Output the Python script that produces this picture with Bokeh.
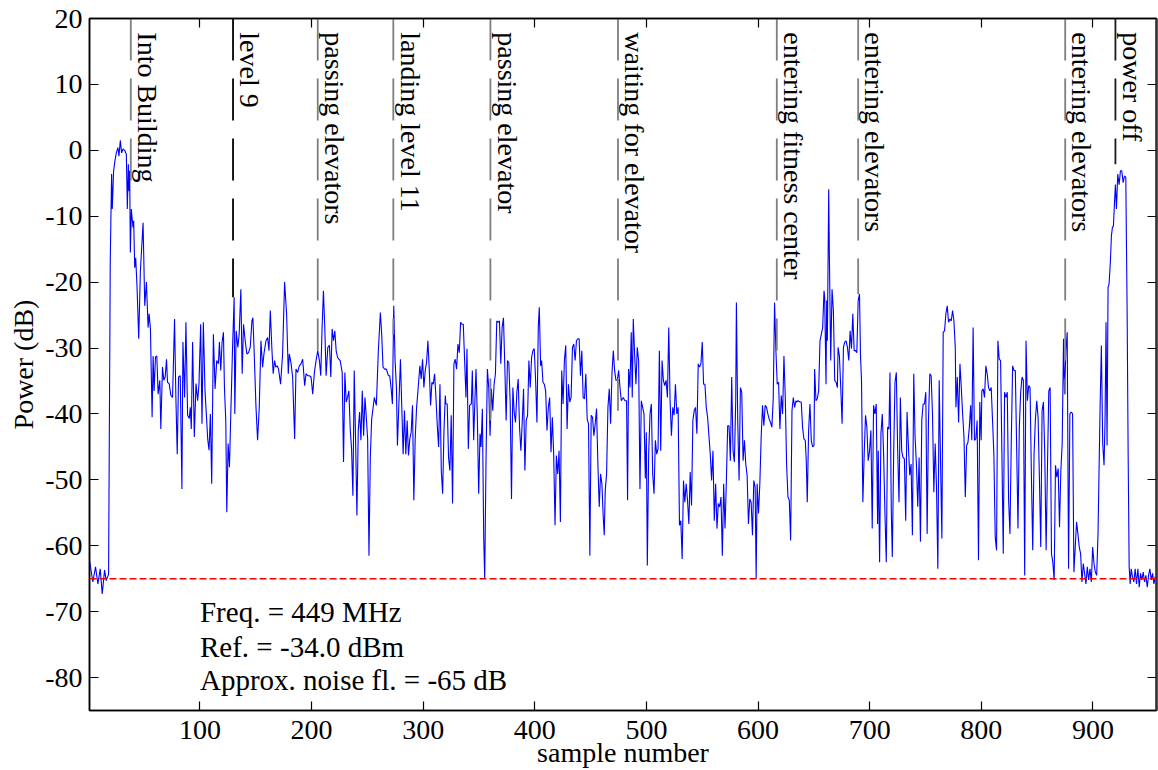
import math
from bokeh.plotting import figure
from bokeh.models import Span, Label, FixedTicker, Range1d, LinearAxis
from bokeh.embed import file_html
from bokeh.resources import INLINE
from bokeh.core.properties import value

# ---------------- data ----------------
sample = [
    1.0, 4.0, 6.4, 8.5, 10.6, 12.4, 14.5, 16.0, 18.1, 19.6, 20.8, 21.4, 22.6, 23.8, 25.0, 26.5, 27.4, 28.6, 29.8, 31.0,
    32.5, 34.0, 34.9, 35.8, 36.4, 37.0, 37.6, 38.5, 39.1, 40.0, 40.6, 41.5, 42.4, 43.6, 45.1, 46.6, 49.0, 50.5, 52.0, 53.5,
    54.4, 55.6, 57.1, 58.0, 58.9, 60.1, 61.3, 62.5, 64.0, 64.9, 66.4, 67.6, 68.8, 70.0, 70.9, 72.4, 73.9, 75.4, 77.2, 78.4,
    79.6, 80.8, 82.3, 83.8, 84.7, 86.2, 87.4, 88.9, 90.4, 91.3, 92.2, 93.4, 94.9, 96.4, 97.9, 99.1, 100.6, 101.8, 103.0, 104.5,
    106.0, 106.9, 108.1, 109.3, 110.5, 112.0, 113.5, 115.0, 116.5, 117.4, 118.6, 119.8, 121.0, 121.9, 123.1, 124.0, 125.2, 126.4, 127.6, 129.1,
    130.6, 131.2, 132.4, 133.9, 135.1, 136.6, 137.8, 139.0, 140.5, 142.0, 143.5, 145.0, 146.5, 147.4, 148.6, 150.1, 151.6, 153.1, 154.6, 156.1,
    157.3, 159.1, 160.6, 161.8, 163.0,
    164.4, 165.6, 166.8, 168.0, 169.2, 170.4, 172.2, 174.0, 175.8, 177.6, 179.1, 180.0, 181.5, 183.0, 184.8, 186.0, 187.5, 189.0, 190.5, 192.0,
    193.8, 195.0, 196.5, 198.0, 199.5, 201.0, 202.5, 204.0, 205.5, 207.0, 208.2, 209.4, 210.6, 211.8, 213.0, 214.5, 216.0, 217.2, 218.4, 219.6,
    220.8, 222.0, 223.2, 224.4, 225.6, 227.4, 228.6, 229.8, 231.0, 232.2, 233.4, 234.6, 235.8, 237.0, 238.2, 239.4, 240.6, 241.8, 243.0, 244.2,
    245.4, 246.6, 247.8, 249.0, 250.2, 251.4, 252.6, 253.8, 255.0, 256.2, 258.0, 259.8, 261.6, 262.8, 264.0, 265.5, 267.0, 268.8, 270.0, 271.2,
    272.4, 273.6, 274.8, 276.0, 276.9, 278.1, 279.6, 280.8, 282.0, 283.2, 284.4, 285.6, 286.8, 288.0, 289.2, 290.4, 291.6, 292.8, 294.0, 295.5,
    297.0, 298.2, 299.4, 300.6, 301.8, 303.0, 304.2, 305.4, 306.6, 307.8, 309.0, 310.2, 311.4, 312.6, 313.8, 315.0, 316.2, 317.4, 318.6, 319.8,
    320.3, 321.5, 322.7, 323.9, 325.1, 326.3, 327.5, 328.7, 329.9, 331.1, 332.3, 333.5, 334.7, 335.9, 337.1, 338.3, 339.2, 340.4, 341.6, 343.1,
    344.0, 345.2, 346.4, 347.3, 348.5, 349.7, 350.9, 351.8, 353.0, 354.2, 355.1, 356.3, 357.5, 358.7, 359.9, 361.1, 362.3, 363.5, 364.7, 365.9,
    367.1, 368.3, 369.5, 370.7, 371.9, 373.1, 374.3, 375.5, 376.7, 377.9, 379.1, 380.3, 381.5, 382.7, 383.9, 385.1, 386.3, 387.5, 388.7, 389.9,
    391.1, 392.3, 393.5, 394.7, 395.9, 397.1, 398.3, 399.5, 400.7, 401.9, 403.1, 404.0, 405.2, 406.1, 407.3, 408.5, 409.7, 410.9, 412.1, 413.3,
    414.5, 415.7, 416.9, 418.1, 419.3, 420.5, 421.7, 422.9, 424.1, 425.3, 426.5, 427.7, 428.9, 430.1, 431.3, 432.5, 433.7, 434.9, 436.1, 437.3,
    438.5, 439.7, 440.9, 442.1, 443.3, 444.5, 445.7, 446.9, 448.1, 449.3, 450.5, 451.7, 452.9, 454.1, 455.3, 456.5, 457.7, 458.9, 460.1, 461.3,
    462.2, 463.1, 464.3, 465.5, 466.7, 467.9, 469.1, 470.3, 471.5, 472.7, 473.9, 475.1, 476.3, 477.5,
    479.2, 480.7, 482.2, 483.1, 484.0, 485.2, 486.4, 487.3, 488.2, 489.4, 490.6, 491.8, 493.0, 494.2, 495.4, 496.6, 497.8, 499.0, 499.9, 500.8,
    502.0, 503.2, 504.4, 505.6, 506.8, 508.0, 509.2, 510.4, 511.6, 512.8, 514.0, 515.2, 516.4, 517.6, 518.8, 520.0, 521.2, 522.4, 523.6, 524.8,
    526.0, 527.2, 528.4, 529.6, 530.8, 532.0, 533.2, 534.4, 535.6, 536.8, 538.0, 539.2, 540.4, 541.6, 542.8, 544.0, 545.2, 546.4, 547.6, 548.8,
    550.0, 551.2, 552.4, 553.6, 554.8, 556.0, 557.2, 558.4, 559.6, 560.8, 562.0, 563.2, 564.4, 565.6, 566.8, 568.0, 569.2, 570.4, 571.6, 572.8,
    574.0, 575.2, 576.4, 577.6, 578.8, 580.0, 580.6, 581.8, 583.0, 584.2, 585.4, 586.6, 587.8, 589.0, 590.2, 591.4, 592.6, 593.8, 595.0, 596.2,
    597.4, 598.3, 599.2, 600.4, 601.6, 602.8, 604.0, 605.2, 606.4, 607.6, 608.8, 610.0, 611.2, 612.4, 613.6, 614.8, 616.0, 617.2, 618.4, 619.6,
    620.8, 622.0, 623.2, 624.4, 625.6, 626.8, 628.0, 629.2, 630.4, 631.6, 632.8, 634.0,
    634.5, 635.7, 637.5, 638.7, 639.9, 641.1, 642.3, 643.2, 644.1, 645.3, 646.5, 647.7, 648.9, 650.1, 650.7, 651.9, 653.1, 654.3, 655.5, 656.7,
    657.9, 659.1, 659.7, 660.3, 660.9, 661.5, 662.1, 663.3, 663.9, 665.1, 666.3, 667.5, 668.7, 669.9, 671.1, 671.7, 672.9, 674.1, 675.3, 676.5,
    677.7, 678.9, 680.1, 681.3, 682.5, 683.7, 684.9, 686.1, 687.3, 688.5, 689.7, 690.9, 691.8, 692.7, 693.9, 695.1, 696.3, 697.5, 698.7, 699.9,
    701.1, 702.3, 703.5, 704.7, 705.9, 707.1, 707.7, 708.9, 710.1, 711.3, 712.5, 713.7, 714.9, 716.1, 717.3, 718.2, 719.4, 720.3, 721.5, 722.7,
    723.9, 725.1, 726.3, 727.5, 728.7, 729.9, 731.1, 732.3, 733.5, 734.7, 735.9, 737.1, 738.3, 739.5, 740.7, 741.9, 743.1, 744.3, 745.5, 746.7,
    747.9, 749.1, 750.3, 751.5, 752.7, 753.9, 755.1, 756.3, 757.5, 758.7, 759.9, 761.1, 762.3, 763.5, 764.7, 765.9, 767.1, 768.3, 769.5, 770.7,
    771.9, 773.1, 774.3, 775.5, 776.7, 777.3, 778.5, 779.7, 780.9, 782.1, 783.3, 784.5, 785.7, 786.9, 788.1, 789.3, 790.5,
    791.5, 792.7, 793.9, 795.1, 796.3, 797.5, 798.7, 799.9, 800.5, 801.7, 802.9, 804.1, 805.3, 806.5, 807.7, 808.9, 810.1, 811.3, 812.5, 813.7,
    814.9, 816.1, 817.3, 818.5, 819.7, 820.9, 822.1, 823.3, 824.5, 825.7, 826.9, 828.1, 829.3, 830.5, 831.7, 832.9, 834.1, 835.3, 836.5, 837.7,
    838.9, 840.1, 841.3, 842.5, 843.7, 844.9, 846.1, 847.3, 848.5, 849.7, 850.9, 852.1, 853.3, 854.5, 855.7, 856.9, 858.1, 859.3, 860.5, 861.7,
    862.9, 864.1, 865.3, 866.5, 867.7, 868.9, 870.1, 871.3, 872.5, 873.7, 874.6, 875.8, 877.0, 878.2, 879.4, 880.6, 881.8, 883.0, 884.2, 885.4,
    886.6, 887.8, 889.0, 890.2, 891.4, 892.6, 893.8, 895.0, 896.2, 897.4, 898.6, 899.8, 901.0, 902.2, 903.4, 904.6, 906.4, 907.6, 908.8, 910.0,
    910.9, 911.8, 912.7, 913.6, 914.5, 915.7, 916.6, 917.5, 918.4, 919.3, 920.2, 921.1, 922.3, 923.5, 924.7, 925.9, 927.1, 928.3, 929.5, 930.7,
    931.6, 932.5, 933.4, 934.3, 935.5, 936.7, 937.9, 939.1, 940.3, 941.5, 942.7, 943.9, 945.1, 946.3, 947.5, 948.7, 949.9, 951.1, 952.3, 953.5,
    954.7, 955.9,
]

power_db = [
    -62.2, -65.5, -63.2, -65.8, -63.5, -67.3, -63.7, -65.3, -64.3, -16.8, -3.6, -8.9, -3.1, -1.6, -0.4, 0.4, -0.9, 1.5, -0.4, 0.2,
    0.0, -0.6, -8.9, -2.1, -6.2, -3.1, -15.5, -8.9, -10.2, -11.7, -10.7, -17.8, -16.3, -20.8, -28.6, -18.3, -11.0, -23.6, -20.0, -26.9,
    -24.8, -27.1, -40.5, -31.2, -36.5, -31.4, -31.2, -37.0, -34.9, -42.3, -32.9, -34.9, -34.4, -31.7, -35.2, -35.4, -37.2, -37.5, -25.6, -37.5,
    -46.1, -34.4, -34.2, -51.4, -29.1, -37.5, -26.1, -40.2, -40.7, -39.0, -42.3, -29.1, -43.5, -35.4, -38.0, -35.4, -26.4, -41.5, -26.1, -36.5,
    -41.0, -43.8, -45.5, -40.0, -50.6, -27.9, -36.2, -31.9, -32.4, -29.1, -33.4, -29.1, -27.6, -36.0, -41.0, -54.9, -44.5, -48.1, -40.0, -30.4,
    -22.3, -40.0, -27.4, -29.9, -27.9, -21.1, -33.9, -26.4, -28.9, -30.9, -30.7, -29.9, -25.9, -25.4, -30.9, -38.7, -44.0, -39.0, -28.9, -32.9,
    -30.9, -28.9, -28.4, -30.4, -24.3,
    -30.1, -33.9, -31.9, -32.9, -32.7, -33.2, -35.5, -30.9, -20.0, -24.8, -33.9, -30.9, -32.2, -34.4, -43.8, -33.2, -33.7, -32.7, -32.4, -31.7,
    -35.7, -33.9, -34.2, -34.2, -34.4, -37.0, -33.7, -31.9, -30.4, -31.9, -34.2, -26.9, -21.3, -26.9, -34.2, -29.9, -29.6, -34.4, -27.1, -28.9,
    -27.4, -30.4, -31.4, -31.7, -31.9, -33.7, -47.3, -33.7, -38.2, -37.5, -36.5, -42.3, -45.3, -52.4, -33.4, -44.0, -55.4, -42.5, -39.7, -44.0,
    -36.5, -43.3, -37.5, -40.5, -43.8, -61.5, -46.6, -40.8, -39.2, -37.5, -38.7, -30.4, -24.6, -27.9, -32.9, -33.2, -33.2, -34.2, -34.2, -36.0,
    -38.5, -23.6, -31.9, -36.0, -44.8, -39.0, -31.7, -39.0, -46.1, -39.5, -46.1, -41.0, -46.3, -43.8, -42.8, -38.7, -53.1, -43.8, -39.2, -36.0,
    -32.7, -34.7, -31.7, -36.0, -33.4, -32.2, -28.9, -33.2, -38.7, -35.2, -35.5, -33.9, -37.5, -41.8, -45.0, -35.5, -48.6, -52.1, -42.5, -37.2,
    -38.5, -38.5, -46.6, -48.6, -40.2, -53.6, -32.4, -31.7, -33.2, -29.4, -30.7, -26.1, -26.4, -26.4, -31.9, -37.5, -30.1, -45.3, -38.7, -38.5,
    -33.4, -44.0, -37.5, -33.2, -40.5, -52.1, -43.0, -45.0, -39.2, -58.7, -65.0, -46.6, -33.2, -36.0, -43.3, -36.2, -39.5, -35.5, -33.9, -25.9,
    -26.1, -25.9, -32.4, -26.9, -25.4, -32.7, -41.0, -31.9, -32.2, -38.2, -52.9, -36.0, -39.7, -41.3, -36.7, -34.7, -42.0, -45.6, -41.3, -36.2,
    -48.6, -41.0, -40.2, -31.9, -36.0, -31.4, -30.4, -30.1, -34.9, -41.3, -26.9, -23.8, -32.7, -31.9, -35.2, -35.5, -36.5, -42.5, -39.0, -37.5,
    -45.8, -40.5, -46.1, -56.9, -46.3, -49.1, -45.6, -56.4, -33.4, -38.5, -31.9, -29.6, -42.3, -35.5, -38.2, -37.5, -29.9, -29.4, -31.9, -28.9,
    -28.6, -28.6, -34.2, -30.4, -37.5, -37.7, -33.9, -40.8, -41.5, -61.5, -40.2, -40.5, -43.3, -41.5, -39.2, -47.6, -54.1, -49.1, -50.6, -55.7,
    -58.4, -51.6, -49.1, -39.0, -36.2, -41.5, -33.9, -30.4, -33.4, -34.9, -34.9, -33.4, -36.0, -38.0,
    -37.5, -38.0, -38.0, -53.1, -33.2, -36.0, -27.6, -37.5, -25.6, -30.9, -35.5, -29.9, -31.9, -51.4, -38.0, -39.0, -40.0, -49.8, -42.8, -63.0,
    -46.1, -40.0, -38.5, -49.1, -52.1, -44.0, -46.1, -45.3, -30.4, -45.6, -31.9, -34.9, -35.7, -34.9, -37.5, -26.9, -38.0, -43.3, -39.0, -40.2,
    -35.5, -40.0, -39.0, -56.9, -56.2, -62.0, -50.1, -53.4, -50.6, -53.1, -56.7, -48.8, -53.9, -41.0, -39.5, -39.0, -43.0, -32.4, -32.9, -32.4,
    -29.1, -35.5, -35.5, -39.0, -40.5, -43.3, -46.1, -50.1, -45.6, -56.2, -50.6, -57.4, -53.6, -54.1, -52.6, -61.5, -50.6, -57.4, -50.3, -41.8,
    -41.8, -47.1, -34.4, -45.6, -47.3, -38.0, -23.1, -41.0, -50.1, -36.0, -36.7, -47.1, -44.0, -47.6, -49.3, -56.7, -52.9, -53.4, -58.4, -50.1,
    -51.1, -65.0, -50.6, -55.1, -50.6, -43.5, -38.7, -41.8, -38.7, -39.0, -40.0, -40.8, -41.3, -42.0, -37.7, -23.1, -30.4, -35.5, -35.2, -42.3,
    -37.2, -40.0, -31.2, -37.5, -47.8, -52.6, -53.1, -59.2, -39.5, -37.5, -39.0, -38.0,
    -38.2, -38.0, -38.2, -38.2, -42.0, -43.8, -44.0, -47.1, -53.4, -42.5, -38.5, -44.0, -45.0, -44.8, -33.2, -38.0, -37.7, -36.5, -28.9, -27.9,
    -26.9, -21.3, -22.3, -28.9, -35.5, -22.8, -28.9, -5.9, -15.8, -31.9, -21.1, -24.3, -34.9, -35.2, -36.0, -29.9, -31.2, -36.0, -41.5, -29.9,
    -29.1, -28.9, -29.9, -31.9, -27.4, -30.1, -24.8, -30.4, -30.4, -30.7, -22.8, -21.8, -31.2, -34.9, -53.4, -46.1, -40.2, -42.0, -47.1, -45.6,
    -42.5, -57.4, -38.7, -40.0, -38.5, -56.7, -45.6, -62.5, -43.0, -40.0, -46.1, -55.1, -62.5, -42.0, -42.3, -33.7, -54.9, -61.7, -46.1, -35.2,
    -33.7, -45.6, -53.4, -37.5, -45.6, -46.6, -46.8, -56.2, -39.7, -44.8, -49.3, -47.6, -58.4, -33.9, -43.5, -47.6, -54.1, -46.6, -59.4, -41.0,
    -38.5, -38.5, -36.7, -58.2, -41.0, -33.9, -34.2, -40.0, -51.9, -44.5, -51.1, -63.5, -34.9, -47.1, -58.9, -27.6, -27.4, -24.8, -23.6, -26.1,
    -25.6, -25.9, -24.3, -25.9, -29.9, -39.0, -34.4, -41.3, -32.4, -36.0, -40.0, -43.5, -52.6, -44.8, -44.3, -42.0, -38.7,
    -44.0, -26.9, -44.0, -43.8, -41.0, -62.2, -38.2, -44.0, -36.5, -36.2, -37.5, -32.7, -33.9, -36.0, -36.5, -36.0, -41.0, -46.1, -58.7, -60.7,
    -28.9, -31.7, -31.9, -46.1, -61.2, -36.7, -37.5, -36.7, -53.1, -58.2, -44.0, -32.7, -33.4, -33.4, -45.0, -57.4, -42.0, -36.7, -34.4, -34.9,
    -64.5, -28.9, -38.0, -35.7, -36.0, -49.1, -60.7, -46.1, -40.8, -38.0, -40.5, -49.8, -60.2, -39.5, -38.2, -46.1, -60.7, -48.1, -36.5, -36.0,
    -61.2, -62.5, -65.2, -47.8, -49.6, -48.3, -57.2, -48.6, -44.5, -28.6, -37.0, -30.4, -27.6, -63.5, -40.0, -39.7, -40.0, -64.0, -60.2, -56.4,
    -58.2, -60.2, -61.2, -65.5, -62.7, -64.2, -65.8, -63.2, -65.2, -63.5, -65.5, -60.2, -62.7, -64.0, -64.5, -58.2, -39.5, -29.6, -44.5, -47.8,
    -41.0, -26.1, -44.8, -20.8, -20.3, -16.8, -13.0, -11.7, -11.5, -8.2, -5.2, -8.9, -3.6, -5.2, -3.1, -3.1, -4.9, -3.9, -4.1, -24.8,
    -46.1, -63.2, -65.8, -63.5, -64.7, -65.5, -63.5, -65.8, -63.5, -66.3, -64.2, -65.2, -64.0, -65.5, -64.5, -66.3, -64.5, -63.5, -65.2, -64.2,
    -65.8, -64.7,
]

event_labels = ["Into Building", "level 9", "passing elevators", "landing level 11",
                "passing elevator", "waiting for elevator", "entering fitness center",
                "entering elevators", "entering elevators", "power off"]
event_sample = [38, 129.6, 205.5, 273.2, 360.2, 474.5, 616.8, 689.7, 875.2, 920.2]
event_end_db = [-6.2, -22.3, -30.4, -28.0, -43.0, -39.5, -30.4, -21.8, -37.0, -2.1]
event_color = ["#7f7f7f", "#000000", "#7f7f7f", "#7f7f7f", "#7f7f7f",
               "#7f7f7f", "#7f7f7f", "#7f7f7f", "#7f7f7f", "#1a1a1a"]

noise_floor_db = -65
info_lines = ["Freq. = 449 MHz", "Ref. = -34.0 dBm", "Approx. noise fl. = -65 dB"]
info_y = [-70.0, -75.3, -80.3]
info_x = 100

x_ticks = [100, 200, 300, 400, 500, 600, 700, 800, 900]
y_ticks = [-80, -70, -60, -50, -40, -30, -20, -10, 0, 10, 20]

FONT = "Liberation Serif"
Y_TOP = 20
LABEL_GAP = 15.0   # gap between marker line and its text, in samples

# ---------------- figure ----------------
p = figure(width=1158, height=770, output_backend="svg", toolbar_location=None,
           x_range=Range1d(1, 957), y_range=Range1d(-85, Y_TOP),
           min_border_left=89, min_border_right=2, min_border_top=18, min_border_bottom=60)
p.grid.visible = False
p.outline_line_color = "black"
p.outline_line_width = 1.5
p.background_fill_color = "white"
p.border_fill_color = "white"

# main trace
p.line(sample, power_db, line_color="#0000ff", line_width=1.1)

# noise floor
p.add_layout(Span(location=noise_floor_db, dimension="width", line_color="#ff0000",
                  line_dash="7 3", line_width=1.4))

# event markers
top_vals = [Y_TOP] * len(event_sample)
p.segment(x0=event_sample, y0=top_vals, x1=event_sample, y1=event_end_db,
          line_color=event_color, line_width=1.8, line_dash="42 18")
label_x = [s + LABEL_GAP for s in event_sample]
label_y = [17.9] * len(event_sample)
p.text(x=label_x, y=label_y, text=event_labels, angle=-math.pi / 2,
       text_align="left", text_baseline="alphabetic",
       text_font=value(FONT), text_font_size="28px", text_color="black")

# info box text
for t, yy in zip(info_lines, info_y):
    p.add_layout(Label(x=info_x, y=yy, text=t, text_baseline="middle", text_align="left",
                       text_font=FONT, text_font_size="29px", text_color="black"))

# axes
for ax in (p.xaxis[0], p.yaxis[0]):
    ax.major_tick_in = 9
    ax.major_tick_out = 0
    ax.minor_tick_line_color = None
    ax.axis_line_width = 1.5
    ax.major_tick_line_width = 1.2
    ax.major_label_text_font = FONT
    ax.major_label_text_font_size = "28px"
    ax.major_label_text_color = "black"
    ax.axis_label_text_font = FONT
    ax.axis_label_text_font_size = "28px"
    ax.axis_label_text_font_style = "normal"
    ax.axis_label_text_color = "black"

p.xaxis[0].ticker = FixedTicker(ticks=x_ticks)
p.yaxis[0].ticker = FixedTicker(ticks=y_ticks)
p.yaxis[0].major_label_overrides = {t: str(t) for t in y_ticks}
p.xaxis[0].axis_label = "sample number"
p.yaxis[0].axis_label = "Power (dB)"
p.xaxis[0].major_label_standoff = 10
p.xaxis[0].axis_label_standoff = -5
p.yaxis[0].major_label_standoff = 7
p.yaxis[0].axis_label_standoff = 3

top_ax = LinearAxis(ticker=FixedTicker(ticks=x_ticks),
                    major_label_overrides={t: "" for t in x_ticks},
                    major_tick_in=9, major_tick_out=0, minor_tick_line_color=None,
                    major_label_standoff=0, axis_line_width=1.5, major_tick_line_width=1.2)
right_ax = LinearAxis(ticker=FixedTicker(ticks=y_ticks),
                      major_label_overrides={t: "" for t in y_ticks},
                      major_tick_in=9, major_tick_out=0, minor_tick_line_color=None,
                      major_label_standoff=0, axis_line_width=2.5, major_tick_line_width=1.2,
                      axis_line_color="#333333")
p.add_layout(top_ax, "above")
p.add_layout(right_ax, "right")

open("out.html", "w").write(file_html(p, INLINE))
